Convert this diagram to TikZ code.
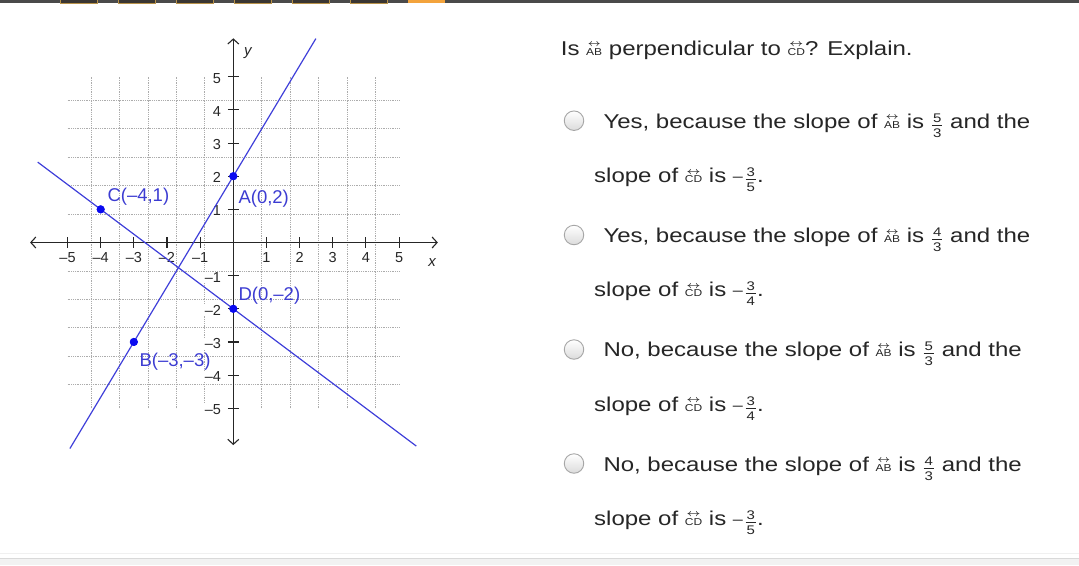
\documentclass[tikz,border=0pt]{standalone}
\usepackage{fontspec}
\setmainfont{Liberation Sans}
\newfontfamily\qf[FakeStretch=1.2]{Liberation Sans}
\usetikzlibrary{calc,arrows.meta}
\definecolor{txt}{HTML}{262626}
\definecolor{blueln}{RGB}{64,64,218}
\definecolor{bluelab}{RGB}{60,60,210}
\definecolor{bluedot}{RGB}{10,10,240}
\definecolor{topbar}{HTML}{4A4A4A}
\definecolor{tabfill}{HTML}{3A3632}
\definecolor{tabline}{HTML}{B8924A}
\definecolor{tabor}{HTML}{F3A33C}
\newcommand\ovl[1]{{\setbox0=\hbox{\fontsize{10}{10}\selectfont #1}\leavevmode\rlap{\raisebox{\dimexpr\ht0+1.6pt\relax}{\hbox to\wd0{\hss\resizebox{0.8\wd0}{3.8pt}{\boldmath$\leftrightarrow$}\hss}}}\box0}}
\newcommand\lAB{\ovl{AB}}
\newcommand\lCD{\ovl{CD}}
\newcommand\fr[2]{\raisebox{-2pt}{${\hbox{\fontsize{12.5}{12.5}\selectfont\kern1pt#1\kern1pt}\above0.6pt\hbox{\fontsize{12.5}{12.5}\selectfont\kern1pt#2\kern1pt}}$}}
\newcommand\mn{\raisebox{0.8pt}{\fontsize{15}{15}\selectfont –}\kern1.5pt}
\begin{document}
\begin{tikzpicture}[x=1pt,y=-1pt,
  txtnode/.style={anchor=base west, inner sep=0pt, text=txt, font=\qf\fontsize{20}{24}\selectfont},
  radio/.style={circle, minimum size=19.5pt, inner sep=0pt, draw=gray!70, line width=0.9pt, top color=white, bottom color=gray!28},
  ptlab/.style={anchor=base west, inner sep=0pt, text=bluelab, font=\fontsize{18.5}{20}\selectfont},
  num/.style={inner sep=0.6pt, fill=white, text=black!85, font=\fontsize{14.5}{15}\selectfont},
  axlab/.style={inner sep=0pt, text=black!85, font=\fontsize{15}{16}\selectfont\itshape},
  dot/.style={circle, fill=bluedot, minimum size=8pt, inner sep=0pt},
  gridl/.style={gray!65, densely dotted, line width=0.8pt},
  axis/.style={black!85, line width=1.1pt},
  ln/.style={blueln, line width=1.2pt},
  tab/.style={fill=tabfill, draw=tabline, line width=0.6pt}]
\useasboundingbox (0,0) rectangle (1079,565);
\fill[white] (0,0) rectangle (1079,565);
% top bar
\fill[topbar] (0,0) rectangle (1079,3.2);
\foreach \t in {60,118,176,234,292,350}{\draw[tab] (\t,-1) rectangle (\t+37,3.2);}
\fill[tabor] (408,-1) rectangle (445,3.4);
% bottom band
\fill[black!5] (0,558) rectangle (1079,565);
\draw[black!15, line width=0.8pt] (0,558) -- (1079,558);
\draw[black!6, line width=0.6pt] (0,553) -- (1079,553);
% graph
\begin{scope}[shift={(233.3pt,-242.5pt)}, x=33.15pt, y=33.15pt]
  \draw[gridl] (-5,-5) grid (5,5);
  \coordinate (xl) at (-6.13,0);
  \coordinate (xr) at (6.17,0);
  \coordinate (yb) at (0,-6.11);
  \coordinate (yt) at (0,6.16);
  \draw[axis, {Straight Barb[length=5pt,width=11pt]}-{Straight Barb[length=5pt,width=11pt]}] (xl) -- (xr);
  \draw[axis, {Straight Barb[length=5pt,width=11pt]}-{Straight Barb[length=5pt,width=11pt]}] (yb) -- (yt);
  \foreach \i/\l in {-5/–5,-4/–4,-3/–3,-2/–2,-1/–1,1/1,2/2,3/3,4/4,5/5}{
    \draw[axis] (\i,0) ++(0,5.5pt) -- ++(0,-11pt);
    \draw[axis] (0,\i) ++(-5.5pt,0) -- ++(11pt,0);
    \node[num, anchor=base, yshift=-19.5pt] (xn\i) at (\i,0) {\l};
    \node[num, anchor=east, xshift=-11.5pt, yshift=-1.5pt] (yn\i) at (0,\i) {\l};
  }
  \node[axlab, anchor=base] (xlab) at (6.0,-0.73) {x};
  \node[axlab, anchor=base] (ylab) at (0.44,5.65) {y};
  \node[dot] (A) at (0,2) {};
  \node[dot] (B) at (-3,-3) {};
  \node[dot] (C) at (-4,1) {};
  \node[dot] (D) at (0,-2) {};
\end{scope}
\draw[ln] ($(B)!-0.643!(A)$) -- ($(B)!1.83!(A)$);
\draw[ln] ($(C)!-0.475!(D)$) -- ($(C)!2.38!(D)$);
\node[dot] at (A) {};
\node[dot] at (B) {};
\node[dot] at (C) {};
\node[dot] at (D) {};
\node[ptlab] (Clab) at (107.3,201.7) {C(–4,1)};
\node[ptlab] (Alab) at (238.3,203.3) {A(0,2)};
\node[ptlab] (Dlab) at (238.3,300) {D(0,–2)};
\node[ptlab] (Blab) at (139.3,366.7) {B(–3,–3)};
% question
\node[txtnode] (q) at (560.7,55.3) {Is \lAB\ perpendicular to \lCD? Explain.};
\node[radio] (r1) at (574,120.7) {};
\node[txtnode] (o1a) at (603.3,128.3) {Yes, because the slope of \lAB\ is \fr53 and the};
\node[txtnode] (o1b) at (594,182.7) {slope of \lCD\ is \mn\fr35.};
\node[radio] (r2) at (574,235) {};
\node[txtnode] (o2a) at (603.3,242.7) {Yes, because the slope of \lAB\ is \fr43 and the};
\node[txtnode] (o2b) at (594,296.7) {slope of \lCD\ is \mn\fr34.};
\node[radio] (r3) at (574,349.5) {};
\node[txtnode] (o3a) at (603.3,356.7) {No, because the slope of \lAB\ is \fr53 and the};
\node[txtnode] (o3b) at (594,411.2) {slope of \lCD\ is \mn\fr34.};
\node[radio] (r4) at (574,463.5) {};
\node[txtnode] (o4a) at (603.3,471.2) {No, because the slope of \lAB\ is \fr43 and the};
\node[txtnode] (o4b) at (594,525.3) {slope of \lCD\ is \mn\fr35.};
\end{tikzpicture}
\end{document}
